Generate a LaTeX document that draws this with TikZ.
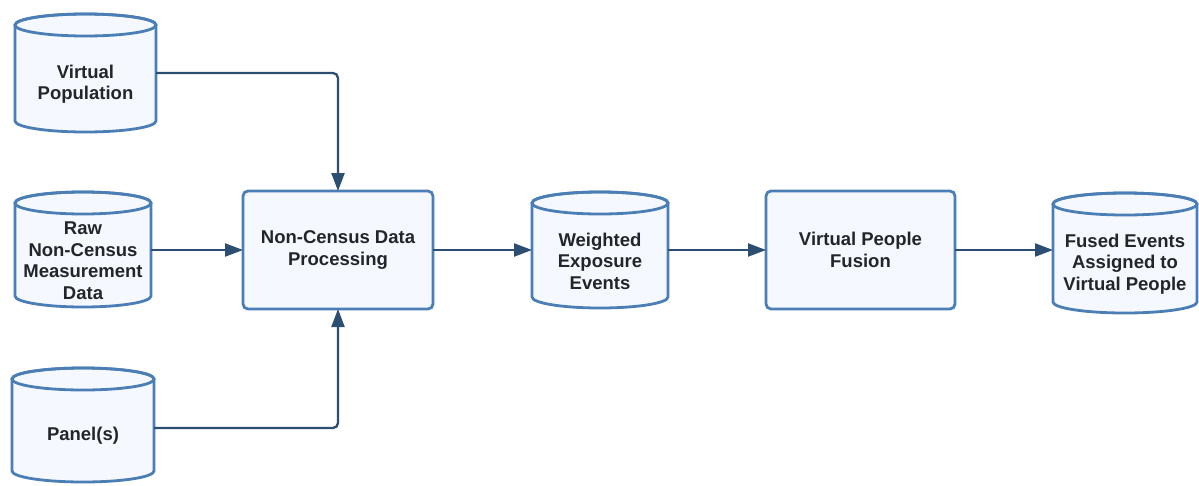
\documentclass[tikz,border=0pt]{standalone}
\usepackage{fontspec}
\setmainfont{Liberation Sans}
\usetikzlibrary{arrows.meta}

\definecolor{edgeblue}{RGB}{74,126,181}
\definecolor{fillblue}{RGB}{245,249,255}
\definecolor{linknavy}{RGB}{44,78,115}
\definecolor{inkgray}{RGB}{34,38,42}

\tikzset{
  shapeline/.style={draw=edgeblue, line width=2.8pt, fill=fillblue},
  procbox/.style={shapeline, rounded corners=5pt, inner sep=0pt, outer sep=0pt,
    align=center, text=inkgray, font=\fontsize{18.5}{21.5}\selectfont\bfseries},
  anchorbox/.style={draw=none, inner sep=0pt, outer sep=0pt},
  lbl/.style={align=center, text=inkgray, inner sep=0pt,
    font=\fontsize{18.5}{21.5}\selectfont\bfseries},
  conn/.style={draw=linknavy, line width=2.3pt, rounded corners=5pt,
    -{Triangle[length=18pt,width=13pt]}},
}

% database cylinder: name, left x, right x, top y, bottom y, text
\newcommand\datastore[6]{%
  \pgfmathsetmacro\dsrx{(#3-#2)/2}%
  \pgfmathsetmacro\dscx{(#3+#2)/2}%
  \pgfmathsetmacro\dscy{(#4+#5)/2}%
  \def\dsry{11}%
  \path[shapeline] (#2,{#4+\dsry}) -- (#2,{#5-\dsry})
    arc[start angle=180, end angle=360, x radius=\dsrx pt, y radius=\dsry pt]
    -- (#3,{#4+\dsry})
    arc[start angle=0, end angle=180, x radius=\dsrx pt, y radius=\dsry pt]
    -- cycle;
  \draw[draw=edgeblue, line width=2.8pt] (\dscx,{#4+\dsry})
    ellipse[x radius=\dsrx pt, y radius=\dsry pt];
  \node[anchorbox, minimum width={(#3-#2)*1pt}, minimum height={(#5-#4)*1pt}]
    (#1) at (\dscx,\dscy) {};
  \node[lbl] (#1-text) at (\dscx,{\dscy+\dsry}) {#6};
}

\begin{document}
\begin{tikzpicture}[x=1pt, y=-1pt]
  \useasboundingbox (0,0) rectangle (1199,485);

  % input stores
  \datastore{virtpop}{15}{156}{14}{132}{Virtual\\Population}
  \datastore{rawdata}{15}{151}{192}{307}{Raw\\Non-Census\\Measurement\\Data}
  \datastore{panels}{12}{154}{368}{482}{Panel(s)}

  % processing steps and intermediate stores
  \node[procbox, minimum width=190pt, minimum height=118pt] (ncproc)
    at (338,250) {Non-Census Data\\Processing};
  \datastore{weighted}{532}{668}{192}{308}{Weighted\\Exposure\\Events}
  \node[procbox, minimum width=189pt, minimum height=118pt] (fusion)
    at (860.5,250) {Virtual People\\Fusion};
  \datastore{fused}{1053}{1197}{193}{313}{Fused Events\\Assigned to\\Virtual People}

  % data flow
  \coordinate (panel-out) at ([yshift=-3pt]panels.east);
  \draw[conn] (virtpop.east) -| (ncproc.north);
  \draw[conn] (rawdata.east |- ncproc.west) -- (ncproc.west);
  \draw[conn] (panel-out) -| (ncproc.south);
  \draw[conn] (ncproc.east) -- (ncproc.east -| weighted.west);
  \draw[conn] (weighted.east |- fusion.west) -- (fusion.west);
  \draw[conn] (fusion.east) -- (fusion.east -| fused.west);
\end{tikzpicture}
\end{document}
